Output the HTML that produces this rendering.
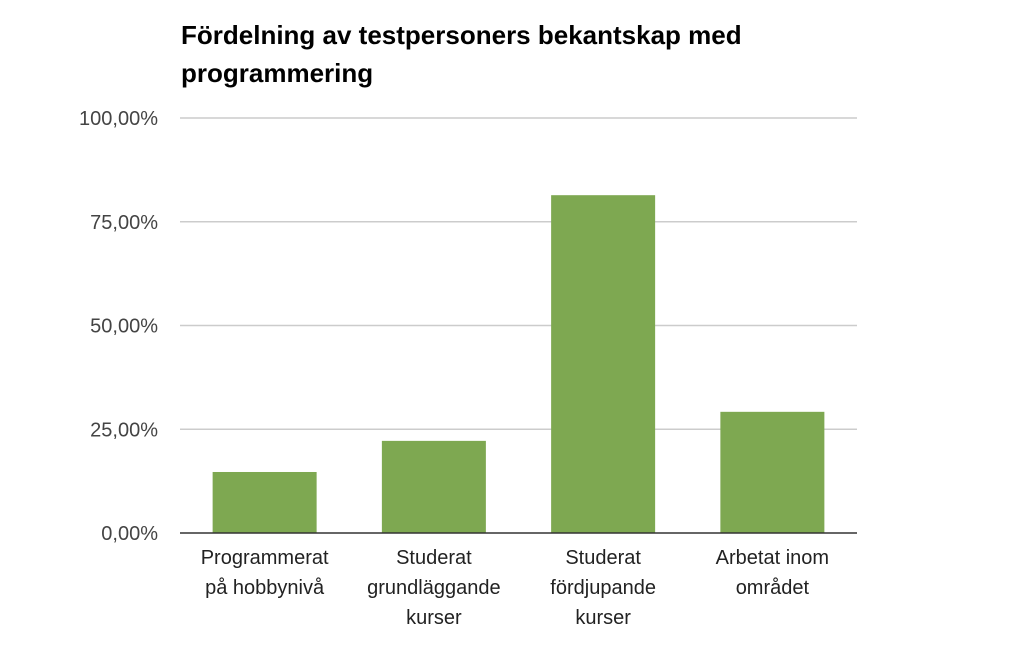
<!DOCTYPE html>
<html><head><meta charset="utf-8"><style>
body{margin:0;background:#fff;width:1024px;height:644px;overflow:hidden;font-family:"Liberation Sans",Arial,sans-serif}
</style></head><body>
<svg id="chart" width="1024" height="644">
<text x="181" y="44" font-size="26" font-weight="bold" fill="#000">Fördelning av testpersoners bekantskap med</text>
<text x="181" y="82" font-size="26" font-weight="bold" fill="#000">programmering</text>
<g id="grid"></g><g id="bars"></g><g id="labels"></g>
</svg>
<script>
const categories=[["Programmerat","på hobbynivå"],["Studerat","grundläggande","kurser"],["Studerat","fördjupande","kurser"],["Arbetat inom","området"]];
const values=[14.7,22.2,81.4,29.2];
const ticks=[0,25,50,75,100];
const tickLabels=["0,00%","25,00%","50,00%","75,00%","100,00%"];
const NS="http://www.w3.org/2000/svg";
const x0=180,x1=857,yTop=118,yBot=533;
const y=v=>yBot-(v/100)*(yBot-yTop);
const band=(x1-x0)/categories.length;
const bw=104;
function mk(t,a,p){const e=document.createElementNS(NS,t);for(const k in a)e.setAttribute(k,a[k]);document.getElementById(p).appendChild(e);return e;}
ticks.forEach((t,i)=>{
 if(t>0){const l=mk('line',{x1:x0,x2:x1,y1:y(t),y2:y(t),stroke:'#ccc','stroke-width':1.5},'grid');
 
 }
 const tx=mk('text',{x:158,y:y(t)+7,'text-anchor':'end','font-size':20,fill:'#444'},'grid');tx.textContent=tickLabels[i];
 
 
});
values.forEach((v,i)=>{
 const cx=x0+band*(i+0.5);
 const r=mk('rect',{x:cx-bw/2,y:y(v),width:bw,height:yBot-y(v),fill:'#7ea851'},'bars');
 
 
 categories[i].forEach((s,j)=>{
  const t=mk('text',{x:cx,y:564+j*30,'text-anchor':'middle','font-size':20,fill:'#222'},'labels');t.textContent=s;
  
  
 });
});
const ax=mk('line',{x1:x0,x2:x1,y1:yBot,y2:yBot,stroke:'#333','stroke-width':1.5},'labels');


</script>
</body></html>
